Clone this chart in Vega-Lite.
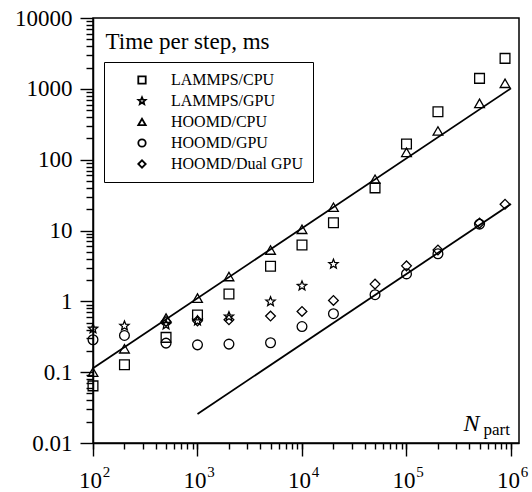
{
  "$schema": "https://vega.github.io/schema/vega-lite/v6.json",
  "width": 426,
  "height": 425,
  "autosize": {"type": "none"},
  "padding": {"left": 93, "top": 18, "right": 13, "bottom": 49},
  "background": "white",
  "config": {
    "font": "Liberation Serif",
    "view": {"stroke": "black", "strokeWidth": 1.5},
    "style": {"guide-label": {"font": "Liberation Serif"}, "guide-title": {"font": "Liberation Serif"}},
    "axis": {"grid": false, "domainColor": "black", "tickColor": "black", "labelColor": "black", "titleColor": "black", "domainWidth": 1.5, "tickWidth": 1.4, "labelFlush": false, "labelOverlap": false, "labelBound": false}
  },
  "datasets": {
    "points": [
      {"N": 100, "t": 0.064, "series": "LAMMPS/CPU"},
      {"N": 200, "t": 0.127, "series": "LAMMPS/CPU"},
      {"N": 500, "t": 0.31, "series": "LAMMPS/CPU"},
      {"N": 1000, "t": 0.64, "series": "LAMMPS/CPU"},
      {"N": 2000, "t": 1.27, "series": "LAMMPS/CPU"},
      {"N": 5000, "t": 3.13, "series": "LAMMPS/CPU"},
      {"N": 10000, "t": 6.26, "series": "LAMMPS/CPU"},
      {"N": 20000, "t": 12.9, "series": "LAMMPS/CPU"},
      {"N": 50000, "t": 40, "series": "LAMMPS/CPU"},
      {"N": 100000, "t": 166, "series": "LAMMPS/CPU"},
      {"N": 200000, "t": 475, "series": "LAMMPS/CPU"},
      {"N": 500000, "t": 1406, "series": "LAMMPS/CPU"},
      {"N": 877000, "t": 2690, "series": "LAMMPS/CPU"},
      {"N": 100, "t": 0.41, "series": "LAMMPS/GPU"},
      {"N": 200, "t": 0.45, "series": "LAMMPS/GPU"},
      {"N": 500, "t": 0.466, "series": "LAMMPS/GPU"},
      {"N": 1000, "t": 0.53, "series": "LAMMPS/GPU"},
      {"N": 2000, "t": 0.61, "series": "LAMMPS/GPU"},
      {"N": 5000, "t": 0.99, "series": "LAMMPS/GPU"},
      {"N": 10000, "t": 1.65, "series": "LAMMPS/GPU"},
      {"N": 20000, "t": 3.35, "series": "LAMMPS/GPU"},
      {"N": 100, "t": 0.1, "series": "HOOMD/CPU"},
      {"N": 200, "t": 0.214, "series": "HOOMD/CPU"},
      {"N": 500, "t": 0.58, "series": "HOOMD/CPU"},
      {"N": 1000, "t": 1.11, "series": "HOOMD/CPU"},
      {"N": 2000, "t": 2.24, "series": "HOOMD/CPU"},
      {"N": 5000, "t": 5.3, "series": "HOOMD/CPU"},
      {"N": 10000, "t": 10.4, "series": "HOOMD/CPU"},
      {"N": 20000, "t": 21.3, "series": "HOOMD/CPU"},
      {"N": 50000, "t": 53, "series": "HOOMD/CPU"},
      {"N": 100000, "t": 127, "series": "HOOMD/CPU"},
      {"N": 200000, "t": 254, "series": "HOOMD/CPU"},
      {"N": 500000, "t": 624, "series": "HOOMD/CPU"},
      {"N": 877000, "t": 1197, "series": "HOOMD/CPU"},
      {"N": 100, "t": 0.287, "series": "HOOMD/GPU"},
      {"N": 200, "t": 0.33, "series": "HOOMD/GPU"},
      {"N": 500, "t": 0.257, "series": "HOOMD/GPU"},
      {"N": 1000, "t": 0.243, "series": "HOOMD/GPU"},
      {"N": 2000, "t": 0.249, "series": "HOOMD/GPU"},
      {"N": 5000, "t": 0.26, "series": "HOOMD/GPU"},
      {"N": 10000, "t": 0.44, "series": "HOOMD/GPU"},
      {"N": 20000, "t": 0.67, "series": "HOOMD/GPU"},
      {"N": 50000, "t": 1.24, "series": "HOOMD/GPU"},
      {"N": 100000, "t": 2.44, "series": "HOOMD/GPU"},
      {"N": 200000, "t": 4.7, "series": "HOOMD/GPU"},
      {"N": 500000, "t": 12.3, "series": "HOOMD/GPU"},
      {"N": 500, "t": 0.52, "series": "HOOMD/Dual GPU"},
      {"N": 1000, "t": 0.53, "series": "HOOMD/Dual GPU"},
      {"N": 2000, "t": 0.55, "series": "HOOMD/Dual GPU"},
      {"N": 5000, "t": 0.62, "series": "HOOMD/Dual GPU"},
      {"N": 10000, "t": 0.72, "series": "HOOMD/Dual GPU"},
      {"N": 20000, "t": 1.03, "series": "HOOMD/Dual GPU"},
      {"N": 50000, "t": 1.75, "series": "HOOMD/Dual GPU"},
      {"N": 100000, "t": 3.17, "series": "HOOMD/Dual GPU"},
      {"N": 200000, "t": 5.3, "series": "HOOMD/Dual GPU"},
      {"N": 500000, "t": 12.7, "series": "HOOMD/Dual GPU"},
      {"N": 877000, "t": 23.5, "series": "HOOMD/Dual GPU"}
    ],
    "fits": [
      {"N": 100, "t": 0.114, "line": "cpu"},
      {"N": 1000000, "t": 1016, "line": "cpu"},
      {"N": 1000, "t": 0.0257, "line": "gpu"},
      {"N": 1000000, "t": 23.7, "line": "gpu"}
    ]
  },
  "layer": [
    {
      "data": {"name": "points"},
      "mark": {"type": "point", "filled": false, "stroke": "black", "strokeWidth": 1.3, "size": 95, "opacity": 1},
      "encoding": {
        "x": {
          "field": "N", "type": "quantitative",
          "scale": {"type": "log", "domain": [100, 1193000], "nice": false},
          "axis": {
            "orient": "bottom",
            "values": [100, 1000, 10000, 100000, 1000000],
            "ticks": true,
            "tickSize": 13,
            "labelExpr": "'10'",
            "labelFont": "Liberation Serif",
            "labelFontSize": 23,
            "labelBaseline": "alphabetic",
            "labelPadding": 31,
            "labelOffset": -3,
            "title": "N",
            "titleFont": "Liberation Serif",
            "titleFontSize": 24,
            "titleFontStyle": "italic",
            "titleFontWeight": "normal",
            "titleAlign": "left",
            "titleBaseline": "alphabetic",
            "titleX": 370,
            "titleY": -13
          }
        },
        "y": {
          "field": "t", "type": "quantitative",
          "scale": {"type": "log", "domain": [0.01, 10000], "nice": false},
          "axis": {
            "orient": "left",
            "values": [0.01, 0.1, 1, 10, 100, 1000, 10000],
            "ticks": true,
            "tickSize": 13,
            "labelExpr": "toString(datum.value)",
            "labelFont": "Liberation Serif",
            "labelFontSize": 23,
            "labelPadding": 8,
            "title": "Time per step, ms",
            "titleFont": "Liberation Serif",
            "titleFontSize": 23,
            "titleFontWeight": "normal",
            "titleAngle": 0,
            "titleAlign": "left",
            "titleBaseline": "alphabetic",
            "titleX": 12,
            "titleY": 30
          }
        },
        "shape": {
          "field": "series", "type": "nominal",
          "scale": {
            "domain": ["LAMMPS/CPU", "LAMMPS/GPU", "HOOMD/CPU", "HOOMD/GPU", "HOOMD/Dual GPU"],
            "range": ["square", "M0,-1L0.26,-0.36L0.951,-0.309L0.42,0.137L0.588,0.809L0,0.44L-0.588,0.809L-0.42,0.137L-0.951,-0.309L-0.26,-0.36Z", "triangle-up", "circle", "diamond"]
          },
          "legend": {
            "orient": "none",
            "legendX": 11,
            "legendY": 44,
            "title": null,
            "strokeColor": "black",
            "fillColor": "white",
            "padding": 10,
            "rowPadding": 5,
            "symbolOffset": 20,
            "symbolSize": 55,
            "symbolStrokeWidth": 1.8,
            "symbolStrokeColor": "black",
            "symbolFillColor": "transparent",
            "labelOffset": 21,
            "labelFont": "Liberation Serif",
            "labelFontSize": 16,
            "labelColor": "black",
            "labelLimit": 300,
            "encode": {"legend": {"update": {"strokeWidth": {"value": 1.5}}}}
          }
        }
      }
    },
    {
      "data": {"name": "fits"},
      "mark": {"type": "line", "color": "black", "strokeWidth": 1.8},
      "encoding": {
        "x": {
          "field": "N", "type": "quantitative",
          "scale": {"type": "log", "domain": [100, 1193000], "nice": false},
          "axis": {
            "orient": "bottom",
            "domain": false,
            "values": [100, 200, 300, 400, 500, 600, 700, 800, 900, 1000, 2000, 3000, 4000, 5000, 6000, 7000, 8000, 9000, 10000, 20000, 30000, 40000, 50000, 60000, 70000, 80000, 90000, 100000, 200000, 300000, 400000, 500000, 600000, 700000, 800000, 900000, 1000000],
            "tickSize": 6,
            "labelExpr": "datum.value == 100 ? '2' : datum.value == 1000 ? '3' : datum.value == 10000 ? '4' : datum.value == 100000 ? '5' : datum.value == 1000000 ? '6' : ''",
            "labelFont": "Liberation Serif",
            "labelFontSize": 15,
            "labelBaseline": "alphabetic",
            "labelPadding": 27,
            "labelOffset": 13,
            "title": "part",
            "titleFont": "Liberation Serif",
            "titleFontSize": 17,
            "titleFontWeight": "normal",
            "titleAlign": "left",
            "titleBaseline": "alphabetic",
            "titleX": 390,
            "titleY": -9
          }
        },
        "y": {
          "field": "t", "type": "quantitative",
          "scale": {"type": "log", "domain": [0.01, 10000], "nice": false},
          "axis": {
            "orient": "left",
            "domain": false,
            "values": [0.02, 0.03, 0.04, 0.05, 0.06, 0.07, 0.08, 0.09, 0.2, 0.3, 0.4, 0.5, 0.6, 0.7, 0.8, 0.9, 2, 3, 4, 5, 6, 7, 8, 9, 20, 30, 40, 50, 60, 70, 80, 90, 200, 300, 400, 500, 600, 700, 800, 900, 2000, 3000, 4000, 5000, 6000, 7000, 8000, 9000],
            "tickSize": 7,
            "labels": false,
            "title": null
          }
        },
        "detail": {"field": "line", "type": "nominal"}
      }
    }
  ],
  "resolve": {"axis": {"x": "independent", "y": "independent"}}
}
